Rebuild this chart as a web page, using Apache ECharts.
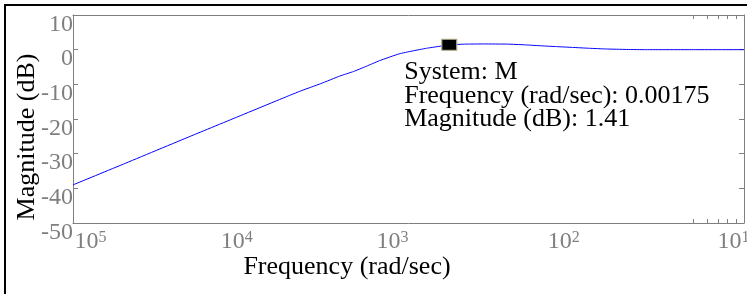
<!DOCTYPE html>
<html>
<head>
<meta charset="utf-8">
<script src="https://cdn.jsdelivr.net/npm/echarts@6/dist/echarts.min.js"></script>
<style>
  html, body { margin: 0; padding: 0; background: #fff; }
  #chart { width: 747px; height: 294px; }
</style>
</head>
<body>
<div id="chart"></div>
<script>
// bode magnitude
var freq = [1e-5, 2e-5, 5e-5, 1e-4, 1.7e-4, 2.25e-4, 3e-4, 3.9e-4, 4.7e-4, 5.6e-4, 6.7e-4,
  8.8e-4, 1.05e-3, 1.28e-3, 1.5e-3, 1.75e-3, 2.2e-3, 2.8e-3, 3.9e-3, 4.9e-3, 6e-3,
  7.5e-3, 9.5e-3, 1.2e-2, 1.5e-2, 2e-2, 2.6e-2, 5e-2, 1e-1];
var magDb = [-39, -33, -25, -19, -14.4, -12.0, -9.8, -7.6, -6.3, -4.8, -3.2,
  -1.2, -0.4, 0.4, 0.9, 1.41, 1.6, 1.65, 1.6, 1.4, 1.15,
  0.9, 0.65, 0.4, 0.2, 0.06, 0, 0, 0];

var xMajor = [1e-5, 1e-4, 1e-3, 1e-2, 1e-1];
var xMinor = [0.05, 0.06, 0.07, 0.08, 0.09];
var yTicks = [-50, -40, -30, -20, -10, 0, 10];

var tipSystem = 'M';
var tipFreq = 0.00175;
var tipMag = 1.41;

var serif = 'Liberation Serif';
var grey = '#7f7f7f';

// per label nudge (px), labels in the picture are not centred on their ticks
var labelShift = { 5: 17.5, 4: -4, 3: -16, 2: -12.5, 1: -10.5 };

var rich = {};
Object.keys(labelShift).forEach(function (e) {
  var s = labelShift[e];
  rich['b' + e] = {
    fontFamily: serif, fontSize: 24, lineHeight: 24, color: grey,
    padding: [0, 0, 0, s > 0 ? 2 * s : 0]
  };
  rich['s' + e] = {
    fontFamily: serif, fontSize: 16, lineHeight: 13, color: grey, verticalAlign: 'top',
    padding: [0, s < 0 ? -2 * s : 0, 0, 0]
  };
});

var chart = echarts.init(document.getElementById('chart'));

var option = {
  animation: false,
  grid: { left: 73, right: 3, top: 15, bottom: 71, containLabel: false, outerBoundsMode: 'none' },
  graphic: [{
    type: 'rect',
    shape: { x: 5, y: 5, width: 780, height: 320 },
    style: { fill: 'none', stroke: '#000', lineWidth: 2 }
  }],
  xAxis: [
    {
      type: 'log', logBase: 10, min: 1e-5, max: 1e-1, position: 'bottom',
      name: 'Frequency (rad/sec)', nameLocation: 'middle', nameGap: 31, nameMoveOverlap: false,
      nameTextStyle: { fontFamily: serif, fontSize: 26, color: '#000', padding: [0, 123, 0, 0] },
      axisLine: { onZero: false, lineStyle: { color: grey, width: 1 } },
      axisTick: { show: true, inside: true, length: 4, customValues: xMinor, lineStyle: { color: grey } },
      axisLabel: {
        customValues: xMajor, margin: 7, showMinLabel: true, showMaxLabel: true,
        formatter: function (v) {
          var e = Math.round(-Math.log10(v));
          return '{b' + e + '|10}{s' + e + '|' + e + '}';
        },
        rich: rich
      },
      splitLine: { show: false }
    },
    {
      type: 'log', logBase: 10, min: 1e-5, max: 1e-1, position: 'top',
      axisLine: { onZero: false, lineStyle: { color: grey, width: 1 } },
      axisTick: { show: true, inside: true, length: 4, customValues: xMinor, lineStyle: { color: grey } },
      axisLabel: { show: false },
      splitLine: { show: false }
    }
  ],
  yAxis: [
    {
      type: 'value', min: -50, max: 10, interval: 10, position: 'left',
      name: 'Magnitude (dB)', nameLocation: 'middle', nameGap: 33, nameMoveOverlap: false,
      nameTextStyle: { fontFamily: serif, fontSize: 26, color: '#000', padding: [0, 36, 0, 0] },
      axisLine: { show: true, onZero: false, lineStyle: { color: grey, width: 1 } },
      axisTick: { show: true, inside: true, length: 5, lineStyle: { color: grey } },
      axisLabel: {
        margin: 0, verticalAlign: 'top', lineHeight: 19,
        fontFamily: serif, fontSize: 24, color: grey,
        customValues: yTicks
      },
      splitLine: { show: false }
    },
    {
      type: 'value', min: -50, max: 10, interval: 10, position: 'right',
      axisLine: { show: true, onZero: false, lineStyle: { color: grey, width: 1 } },
      axisTick: { show: true, inside: true, length: 5, lineStyle: { color: grey } },
      axisLabel: { show: false },
      splitLine: { show: false }
    }
  ],
  series: [
    {
      type: 'line',
      data: freq.map(function (f, i) { return [f, magDb[i]]; }),
      showSymbol: false,
      smooth: 0.15,
      lineStyle: { color: '#0000ff', width: 1 },
      z: 2
    },
    {
      type: 'scatter',
      data: [[tipFreq, tipMag]],
      symbol: 'rect',
      symbolSize: [15, 11],
      itemStyle: { color: '#000', opacity: 1, borderColor: '#b5ad88', borderWidth: 1 },
      label: {
        show: true,
        position: [-37, 22],
        align: 'left',
        fontFamily: serif, fontSize: 26, lineHeight: 23.5, color: '#000',
        formatter: 'System: ' + tipSystem + '\nFrequency (rad/sec): ' + tipFreq + '\nMagnitude (dB): ' + tipMag
      },
      z: 5
    }
  ]
};

chart.setOption(option);
</script>
</body>
</html>
